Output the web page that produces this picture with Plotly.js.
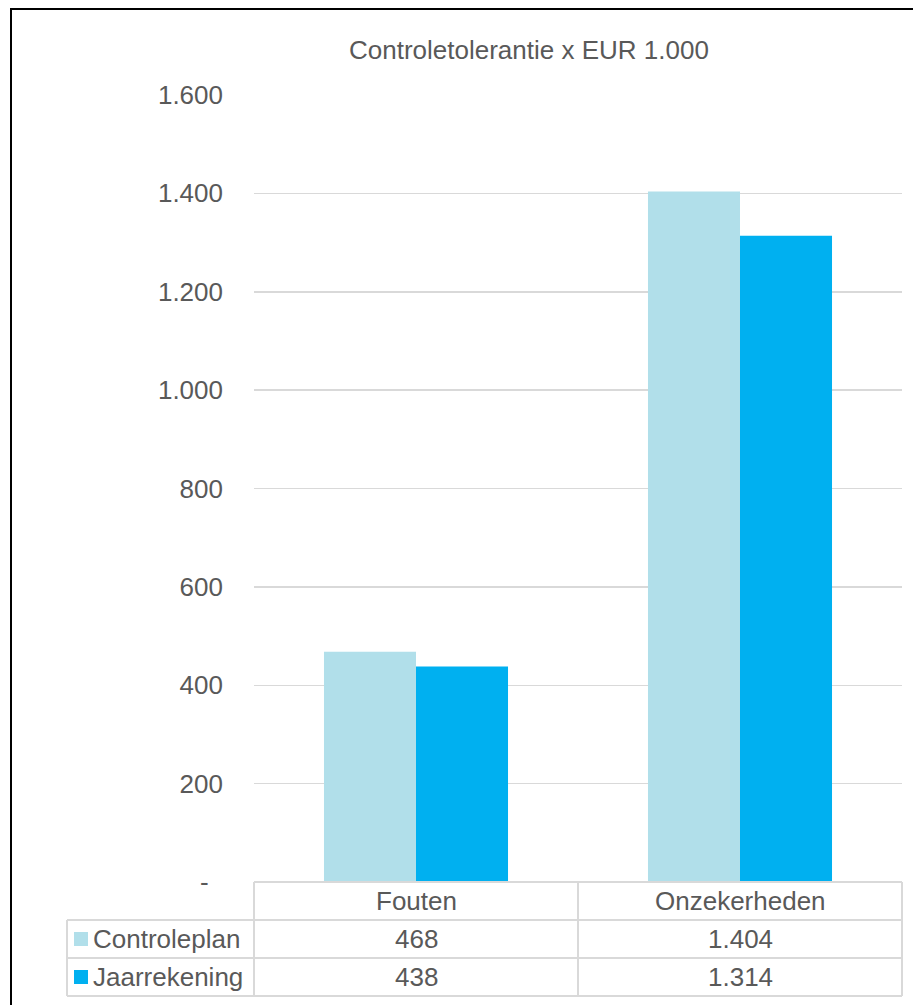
<!DOCTYPE html>
<html>
<head>
<meta charset="utf-8">
<script src="https://cdn.plot.ly/plotly-3.0.1.min.js"></script>
<style>
html,body{margin:0;padding:0;background:#fff;}
#chart{width:913px;height:1005px;}
</style>
</head>
<body>
<div id="chart"></div>
<script>
// ---- data ----
const categories = ["Fouten", "Onzekerheden"];
const seriesNames = ["Controleplan", "Jaarrekening"];
const controleplan = [468, 1404];
const jaarrekening = [438, 1314];
const tickValues = [0, 200, 400, 600, 800, 1000, 1200, 1400, 1600];
const chartTitle = "Controletolerantie x EUR 1.000";

// ---- styling ----
const colors = ["#B1DFEA", "#00B0F0"];
const textColor = "#595959";
const gridColor = "#D9D9D9";
const FONT = "Liberation Sans, Arial, sans-serif";
const FS = 26;

function fmt(v) {
  const s = String(Math.round(v));
  return s.replace(/\B(?=(\d{3})+(?!\d))/g, ".");
}

// plot area in pixels
const W = 913, H = 1005;
const L = 254, R = 902, T = 95, B = 882;
const px = x => (x - L) / (R - L);
const py = y => (B - y) / (B - T);

const series = [controleplan, jaarrekening];
const traces = series.map((vals, i) => ({
  type: "bar",
  x: categories,
  y: vals,
  name: seriesNames[i],
  marker: { color: colors[i], line: { width: 0 } },
  hoverinfo: "skip"
}));

const ticktext = tickValues.map(v => v === 0 ? "-\u00a0\u00a0" : fmt(v));

const lineStyle = { color: gridColor, width: 2 };
const shapes = [];
function hline(x0, x1, y) {
  shapes.push({ type: "line", xref: "paper", yref: "paper", x0: px(x0), x1: px(x1), y0: py(y), y1: py(y), line: lineStyle, layer: "above" });
}
function vline(x, y0, y1) {
  shapes.push({ type: "line", xref: "paper", yref: "paper", x0: px(x), x1: px(x), y0: py(y0), y1: py(y1), line: lineStyle, layer: "above" });
}
// table rows (pixel bounds)
const rowTop = [882, 920, 958];
const rowH = 38;
const tableLeft = 67;
const colEdges = [254, 578, 902];

hline(colEdges[0], colEdges[2], rowTop[0]);
for (let r = 1; r <= seriesNames.length + 1; r++) {
  const y = rowTop[0] + r * rowH;
  hline(tableLeft, colEdges[2], y);
}
colEdges.forEach(x => vline(x, rowTop[0], rowTop[0] + rowH * (seriesNames.length + 1)));
vline(tableLeft, rowTop[0] + rowH, rowTop[0] + rowH * (seriesNames.length + 1));

// outer frame
shapes.push({ type: "rect", xref: "paper", yref: "paper", x0: px(11), x1: px(1100), y0: py(9), y1: py(1100), line: { color: "#000", width: 2 }, fillcolor: "rgba(0,0,0,0)", layer: "above" });

const annotations = [];
// header
categories.forEach((c, j) => {
  annotations.push({ xref: "x", yref: "paper", x: j, y: py(rowTop[0] + rowH / 2), text: c, showarrow: false, xanchor: "center", yanchor: "middle", font: { family: FONT, size: FS, color: textColor } });
});
// rows
series.forEach((vals, i) => {
  const yc = rowTop[0] + rowH * (i + 1) + rowH / 2;
  // legend key square
  shapes.push({ type: "rect", xref: "paper", yref: "paper", x0: px(74), x1: px(88), y0: py(yc - 7), y1: py(yc + 7), fillcolor: colors[i], line: { width: 0 }, layer: "above" });
  annotations.push({ xref: "paper", yref: "paper", x: px(91), y: py(yc), text: seriesNames[i], showarrow: false, xanchor: "left", yanchor: "middle", font: { family: FONT, size: FS, color: textColor } });
  vals.forEach((v, j) => {
    annotations.push({ xref: "x", yref: "paper", x: j, y: py(yc), text: fmt(v), showarrow: false, xanchor: "center", yanchor: "middle", font: { family: FONT, size: FS, color: textColor } });
  });
});
// title
annotations.push({ xref: "paper", yref: "paper", x: px(529), y: py(50), text: chartTitle, showarrow: false, xanchor: "center", yanchor: "middle", font: { family: FONT, size: FS, color: textColor } });

const layout = {
  width: W, height: H,
  margin: { l: L, r: W - R, t: T, b: H - B, pad: 0 },
  paper_bgcolor: "#fff",
  plot_bgcolor: "#fff",
  showlegend: false,
  barmode: "group",
  bargap: 0.432,
  bargroupgap: 0,
  font: { family: FONT, size: FS, color: textColor },
  xaxis: { showticklabels: false, showgrid: false, zeroline: false, showline: false, ticks: "" },
  yaxis: {
    range: [0, 1600],
    tickmode: "array",
    tickvals: tickValues,
    ticktext: ticktext,
    showgrid: true, gridcolor: gridColor, gridwidth: 1.5,
    zeroline: false, showline: false, ticks: "",
    ticklabelstandoff: 30,
    tickfont: { family: FONT, size: FS, color: textColor }
  },
  shapes: shapes,
  annotations: annotations
};

Plotly.newPlot("chart", traces, layout, { staticPlot: true, displayModeBar: false });
</script>
</body>
</html>
